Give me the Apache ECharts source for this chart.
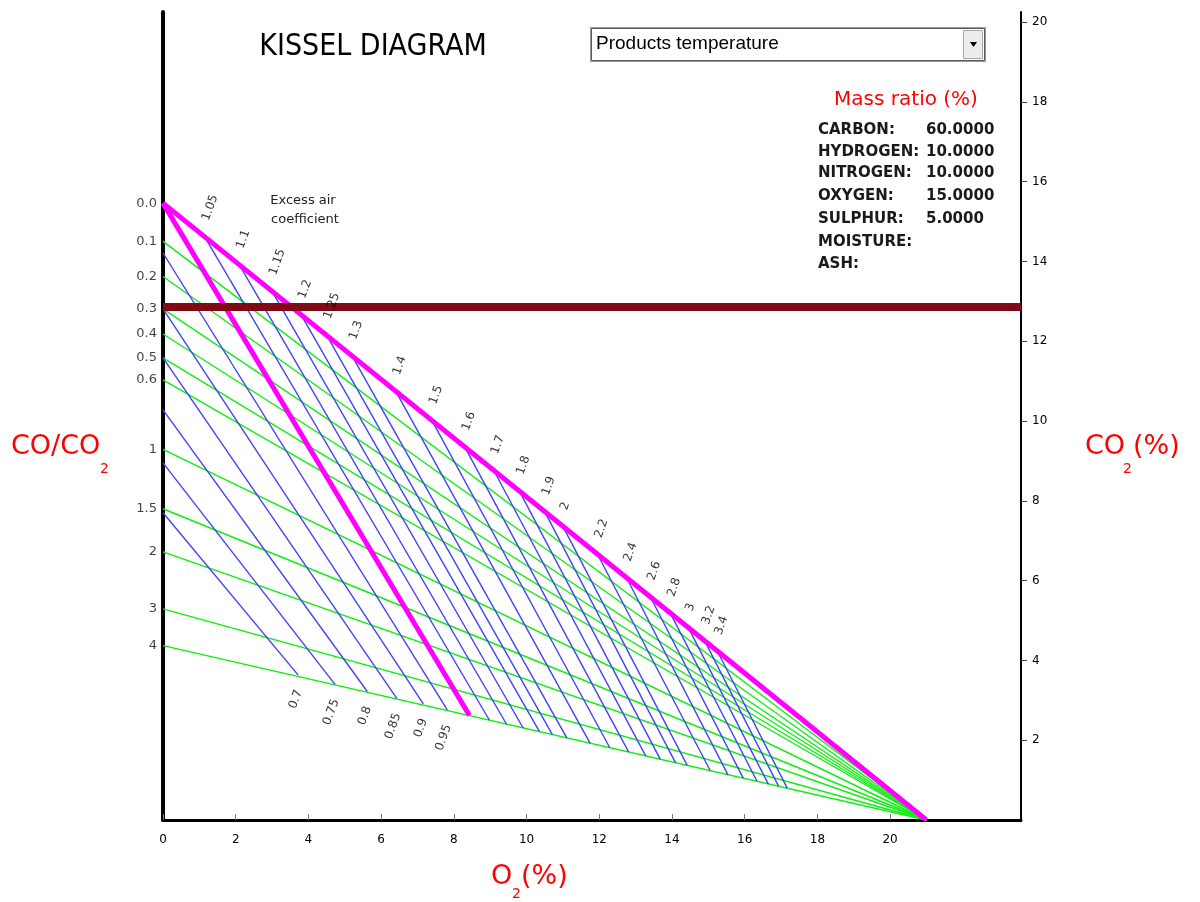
<!DOCTYPE html>
<html><head><meta charset="utf-8">
<script src="https://cdn.jsdelivr.net/npm/echarts@6/dist/echarts.min.js"></script>
<style>html,body{margin:0;padding:0;background:#fff}#c{width:1200px;height:902px}</style>
</head><body><div id="c"></div>
<script>
// ---- data (O2 %, CO2 %) ----
const xTicks = [0, 2, 4, 6, 8, 10, 12, 14, 16, 18, 20];
const yTicks = [2, 4, 6, 8, 10, 12, 14, 16, 18, 20];
const convergeO2 = 21;                       // all CO/CO2 lines meet at (21, 0)
const ratioLabels   = ['0.0', '0.1', '0.2', '0.3', '0.4', '0.5', '0.6', '1', '1.5', '2', '3', '4'];
const ratioStartCO2 = [15.46, 14.50, 13.62, 12.81, 12.18, 11.58, 11.03, 9.29, 7.80, 6.72, 5.29, 4.37];
const alphaOneEnd = [8.43, 2.62];            // alpha = 1 line, from (0, 15.46)
const alphaHighLabels   = ['1.05','1.1','1.15','1.2','1.25','1.3','1.4','1.5','1.6','1.7','1.8','1.9','2','2.2','2.4','2.6','2.8','3','3.2','3.4'];
const alphaHighStartO2  = [1.15, 2.10, 3.00, 3.80, 4.50, 5.20, 6.40, 7.40, 8.30, 9.10, 9.80, 10.50, 11.00, 11.95, 12.75, 13.40, 13.95, 14.45, 14.90, 15.25];
const alphaHighStartCO2 = [14.61, 13.91, 13.25, 12.66, 12.15, 11.63, 10.75, 10.01, 9.35, 8.76, 8.25, 7.73, 7.36, 6.66, 6.07, 5.60, 5.19, 4.82, 4.49, 4.23];
const alphaHighEndO2    = [8.98, 9.45, 9.91, 10.36, 10.71, 11.11, 11.75, 12.29, 12.81, 13.28, 13.68, 14.10, 14.42, 15.05, 15.54, 15.96, 16.34, 16.65, 16.93, 17.17];
const alphaHighEndCO2   = [2.50, 2.40, 2.30, 2.21, 2.14, 2.05, 1.92, 1.81, 1.70, 1.60, 1.52, 1.43, 1.37, 1.24, 1.13, 1.05, 0.97, 0.90, 0.85, 0.80];
const alphaLowLabels   = ['0.7', '0.75', '0.8', '0.85', '0.9', '0.95'];
const alphaLowStartCO2 = [7.70, 8.95, 10.28, 11.58, 12.81, 14.21];
const alphaLowEndO2    = [3.72, 4.73, 5.62, 6.43, 7.16, 7.82];
const alphaLowEndCO2   = [3.63, 3.40, 3.22, 3.05, 2.91, 2.76];
const measuredCO2 = 12.86;
const massNames  = ['CARBON:', 'HYDROGEN:', 'NITROGEN:', 'OXYGEN:', 'SULPHUR:', 'MOISTURE:', 'ASH:'];
const massValues = ['60.0000', '10.0000', '10.0000', '15.0000', '5.0000', '', ''];

// ---- build series data ----
const xMax = 23.6, yMax = 20.25;
const greenData = ratioStartCO2.slice(1).map(v => ({coords: [[0, v], [convergeO2, 0]]}));
const pinkData = [
  {coords: [[0, ratioStartCO2[0]], [convergeO2, 0]]},
  {coords: [[0, ratioStartCO2[0]], alphaOneEnd]}
];
const blueData = alphaHighLabels.map((l, i) => ({coords: [[alphaHighStartO2[i], alphaHighStartCO2[i]], [alphaHighEndO2[i], alphaHighEndCO2[i]]]}))
  .concat(alphaLowLabels.map((l, i) => ({coords: [[0, alphaLowStartCO2[i]], [alphaLowEndO2[i], alphaLowEndCO2[i]]]})));
const redData = [{coords: [[0, measuredCO2], [xMax, measuredCO2]]}];

const chart = echarts.init(document.getElementById('c'), null, {renderer: 'canvas'});
const baseFont = 'DejaVu Sans';
const tf = (x, y, text, size, color, extra) => Object.assign({type: 'text', x: x, y: y, silent: true, z: 100,
  style: Object.assign({text: text, fontSize: size, fill: color, fontFamily: baseFont}, extra || {})});
const rowY = [130, 152, 173, 196, 219, 242, 264];

chart.setOption({
  animation: false,
  backgroundColor: '#fff',
  grid: {left: 163, right: 179, top: 12, bottom: 82, containLabel: false, outerBoundsMode: 'none'},
  xAxis: {
    type: 'value', min: 0, max: xMax,
    axisLine: {show: true, onZero: false, lineStyle: {color: '#000', width: 3}},
    axisTick: {show: true, inside: true, length: 6, customValues: xTicks, lineStyle: {color: '#777', width: 1}},
    axisLabel: {customValues: xTicks, fontSize: 12, color: '#000', margin: 14, fontFamily: baseFont},
    splitLine: {show: false}
  },
  yAxis: [{
    type: 'value', min: 0, max: yMax, position: 'left',
    axisLine: {show: true, onZero: false, lineStyle: {color: '#000', width: 4}},
    axisTick: {show: false}, axisLabel: {show: false}, splitLine: {show: false}
  }, {
    type: 'value', min: 0, max: yMax, position: 'right',
    axisLine: {show: true, onZero: false, lineStyle: {color: '#000', width: 2}},
    axisTick: {show: true, length: 6, customValues: yTicks, lineStyle: {color: '#444'}},
    axisLabel: {customValues: yTicks, fontSize: 12, color: '#000', margin: 11, fontFamily: baseFont},
    splitLine: {show: false}
  }],
  series: [
    {type: 'lines', coordinateSystem: 'cartesian2d', polyline: false, silent: true, z: 2,
     lineStyle: {color: '#10ee10', width: 1.4, opacity: 1}, data: greenData},
    {type: 'lines', coordinateSystem: 'cartesian2d', polyline: false, silent: true, z: 3,
     lineStyle: {color: '#4242fa', width: 1.4, opacity: 1}, data: blueData},
    {type: 'lines', coordinateSystem: 'cartesian2d', polyline: false, silent: true, z: 4,
     lineStyle: {color: '#ff00ff', width: 5, opacity: 1}, data: pinkData},
    {type: 'lines', coordinateSystem: 'cartesian2d', polyline: false, silent: true, z: 5,
     lineStyle: {color: '#7f0a16', width: 8, opacity: 1}, data: redData},
    {type: 'scatter', silent: true, z: 6, symbolSize: 0.1, itemStyle: {color: 'transparent'},
     data: ratioStartCO2.map((v, i) => [0, v, ratioLabels[i]]),
     label: {show: true, position: 'left', distance: 6, formatter: p => p.data[2], fontSize: 13, color: '#111', fontFamily: baseFont}},
    {type: 'scatter', silent: true, z: 6, symbolSize: 0.1, itemStyle: {color: 'transparent'},
     data: alphaHighLabels.map((l, i) => [alphaHighStartO2[i], alphaHighStartCO2[i], l]),
     label: {show: true, position: 'inside', rotate: 70, align: 'left', verticalAlign: 'middle', offset: [16, -5],
       formatter: p => p.data[2], fontSize: 12, color: '#000', fontFamily: baseFont}},
    {type: 'scatter', silent: true, z: 6, symbolSize: 0.1, itemStyle: {color: 'transparent'},
     data: alphaLowLabels.map((l, i) => [alphaLowEndO2[i], alphaLowEndCO2[i], l]),
     label: {show: true, position: 'inside', rotate: 70, align: 'right', verticalAlign: 'middle', offset: [-14, 6],
       formatter: p => p.data[2], fontSize: 12, color: '#000', fontFamily: baseFont}}
  ],
  graphic: [
    tf(373, 47, 'KISSEL DIAGRAM', 30, '#000', {align: 'center', verticalAlign: 'middle', fontFamily: "'Liberation Sans Narrow', 'DejaVu Sans Condensed', sans-serif"}),
    {type: 'rect', shape: {x: 590.5, y: 27.5, width: 395, height: 34}, style: {fill: '#fff', stroke: '#9a9a9a', lineWidth: 1}, silent: true, z: 99},
    {type: 'rect', shape: {x: 591.5, y: 28.5, width: 393, height: 32}, style: {fill: 'none', stroke: '#5a5a5a', lineWidth: 1}, silent: true, z: 99},
    {type: 'rect', shape: {x: 963.5, y: 30.5, width: 19, height: 28}, style: {fill: '#ececec', stroke: '#a8a8a8', lineWidth: 1}, silent: true, z: 100},
    {type: 'polygon', shape: {points: [[970, 42], [977, 42], [973.5, 47]]}, style: {fill: '#000'}, silent: true, z: 101},
    tf(596, 44, 'Products temperature', 19, '#000', {verticalAlign: 'middle', fontFamily: "'Liberation Sans', sans-serif"}),
    tf(906, 100, 'Mass ratio (%)', 20, '#ff0000', {align: 'center', verticalAlign: 'middle'}),
    ...massNames.map((n, i) => tf(818, rowY[i], n, 15, '#1a1a1a', {verticalAlign: 'middle', fontWeight: 'bold'})),
    ...massValues.map((v, i) => tf(926, rowY[i], v, 15, '#1a1a1a', {verticalAlign: 'middle', fontWeight: 'bold'})),
    tf(303, 201, 'Excess air', 13, '#222', {align: 'center', verticalAlign: 'middle'}),
    tf(305, 220, 'coefficient', 13, '#222', {align: 'center', verticalAlign: 'middle'}),
    tf(11, 447, 'CO/CO', 27, '#ff0000', {verticalAlign: 'middle'}),
    tf(100, 469, '2', 14, '#ff0000', {verticalAlign: 'middle'}),
    tf(1085, 447, 'CO', 27, '#ff0000', {verticalAlign: 'middle'}),
    tf(1123, 469, '2', 14, '#ff0000', {verticalAlign: 'middle'}),
    tf(1133, 447, '(%)', 27, '#ff0000', {verticalAlign: 'middle'}),
    tf(491, 877, 'O', 27, '#ff0000', {verticalAlign: 'middle'}),
    tf(512, 894, '2', 14, '#ff0000', {verticalAlign: 'middle'}),
    tf(521, 877, '(%)', 27, '#ff0000', {verticalAlign: 'middle'})
  ]
});
</script></body></html>
